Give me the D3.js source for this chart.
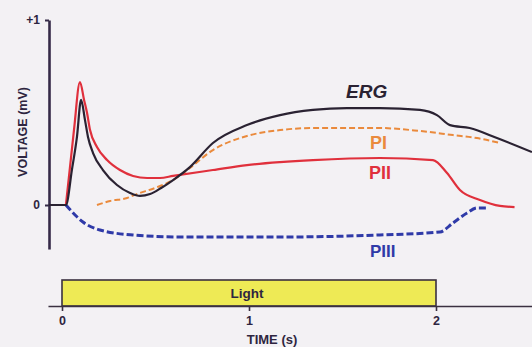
<!DOCTYPE html>
<html>
<head>
<meta charset="utf-8">
<script src="https://cdn.jsdelivr.net/npm/d3@7"></script>
<style>
  html, body { margin: 0; padding: 0; background: #f3f1f4; }
  svg { display: block; }
  text { font-family: "Liberation Sans", Arial, sans-serif; }
</style>
</head>
<body>
<svg id="chart" width="532" height="347"></svg>
<script>
// Time (s) and voltage (mV) samples for the ERG and its components
const ergT  = [-0.07, 0.021, 0.053, 0.080, 0.102, 0.123, 0.139, 0.166, 0.219, 0.294, 0.364, 0.417, 0.471, 0.53, 0.594, 0.684, 0.807, 0.989, 1.166, 1.342, 1.524, 1.70, 1.914, 2.005, 2.075, 2.18, 2.326, 2.513];
const ergV  = [0, 0, 0.19, 0.368, 0.568, 0.459, 0.368, 0.281, 0.189, 0.108, 0.065, 0.049, 0.059, 0.092, 0.135, 0.205, 0.335, 0.432, 0.486, 0.514, 0.524, 0.524, 0.514, 0.486, 0.432, 0.416, 0.362, 0.286];

const piT   = [0.187, 0.257, 0.348, 0.40, 0.497, 0.594, 0.684, 0.807, 0.989, 1.166, 1.342, 1.70, 1.914, 2.091, 2.219, 2.342];
const piV   = [0, 0.022, 0.038, 0.059, 0.092, 0.135, 0.2, 0.297, 0.373, 0.405, 0.416, 0.416, 0.4, 0.378, 0.362, 0.335];

const piiT  = [0.021, 0.064, 0.096, 0.118, 0.134, 0.15, 0.187, 0.241, 0.31, 0.38, 0.455, 0.524, 0.594, 0.807, 0.989, 1.166, 1.342, 1.70, 1.984, 2.059, 2.128, 2.235, 2.342, 2.42];
const piiV  = [0, 0.405, 0.665, 0.568, 0.497, 0.405, 0.314, 0.243, 0.189, 0.157, 0.146, 0.146, 0.157, 0.189, 0.216, 0.232, 0.243, 0.254, 0.243, 0.173, 0.081, 0.027, -0.005, -0.011];

const piiiT = [0.021, 0.07, 0.112, 0.203, 0.38, 0.631, 1.166, 1.70, 2.021, 2.091, 2.166, 2.219, 2.273];
const piiiV = [0, -0.054, -0.092, -0.135, -0.162, -0.173, -0.173, -0.162, -0.146, -0.097, -0.043, -0.016, -0.016];

const yTicks = [0, 1];
const yTickLabels = ["0", "+1"];
const xTicks = [0, 1, 2];
const lightOn = 0, lightOff = 2;

const svg = d3.select("#chart");

const x = d3.scaleLinear().domain([0, 2]).range([62, 436]);
const y = d3.scaleLinear().domain([0, 1]).range([205, 20]);

const zip = (ts, vs) => ts.map((t, i) => [t, vs[i]]);
const line = d3.line().x(d => x(d[0])).y(d => y(d[1])).curve(d3.curveMonotoneX);

// Voltage axis
const yAxisScale = y.copy().domain([-0.238, 1]).range([y(-0.238), y(1)]);
const yAxis = svg.append("g")
  .attr("transform", "translate(49,0)")
  .call(d3.axisLeft(yAxisScale).tickValues(yTicks).tickSize(4).tickSizeOuter(0)
    .tickFormat((d, i) => yTickLabels[i]));
yAxis.select(".domain").attr("stroke", "#352a48").attr("stroke-width", 2.6);
yAxis.selectAll(".tick line").attr("stroke", "#352a48").attr("stroke-width", 2);
yAxis.selectAll(".tick text").attr("fill", "#2e2540").attr("font-size", 12).attr("font-weight", "bold").attr("x", -9);

svg.append("text")
  .attr("transform", "translate(27,132) rotate(-90)")
  .attr("text-anchor", "middle")
  .attr("font-size", 12.5).attr("font-weight", "bold").attr("fill", "#2e2540")
  .text("VOLTAGE (mV)");

// Stimulus bar and time axis
svg.append("rect")
  .attr("x", x(lightOn)).attr("y", 280)
  .attr("width", x(lightOff) - x(lightOn)).attr("height", 306 - 280)
  .attr("fill", "#eeea55").attr("stroke", "#3a3040").attr("stroke-width", 1.6);
svg.append("text")
  .attr("x", x((lightOn + lightOff) / 2) - 2).attr("y", 298)
  .attr("text-anchor", "middle").attr("font-size", 13.5).attr("font-weight", "bold")
  .attr("fill", "#2e2540").text("Light");

const xAxisScale = x.copy().domain([-0.075, 2.513]).range([x(-0.075), x(2.513)]);
const xAxis = svg.append("g")
  .attr("transform", "translate(0,306)")
  .call(d3.axisBottom(xAxisScale).tickValues(xTicks).tickSize(5).tickSizeOuter(0).tickFormat(d3.format("d")));
xAxis.select(".domain").attr("stroke", "#3a3040").attr("stroke-width", 1.6);
xAxis.selectAll(".tick line").attr("stroke", "#3a3040").attr("stroke-width", 1.6);
xAxis.selectAll(".tick text").attr("fill", "#2e2540").attr("font-size", 12.5).attr("font-weight", "bold").attr("dy", "0.85em");

svg.append("text")
  .attr("x", 272).attr("y", 344)
  .attr("text-anchor", "middle").attr("font-size", 13).attr("font-weight", "bold")
  .attr("fill", "#2e2540").text("TIME (s)");

// Traces
const traces = [
  { data: zip(piiiT, piiiV), color: "#2f3aa8", width: 3, dash: "7,3" },
  { data: zip(piT, piV), color: "#ea8a3c", width: 2, dash: "6,3" },
  { data: zip(piiT, piiV), color: "#e0303c", width: 2.2, dash: null },
  { data: zip(ergT, ergV), color: "#2a2232", width: 2.2, dash: null }
];
svg.append("g").selectAll("path").data(traces).join("path")
  .attr("d", d => line(d.data))
  .attr("fill", "none")
  .attr("stroke", d => d.color)
  .attr("stroke-width", d => d.width)
  .attr("stroke-dasharray", d => d.dash)
  .attr("stroke-linejoin", "round");

// Trace names
const names = [
  { text: "ERG", x: 346, y: 98, color: "#2a2232", size: 19, style: "italic" },
  { text: "PI", x: 370, y: 149, color: "#ea8a3c", size: 18, style: "normal" },
  { text: "PII", x: 369, y: 179, color: "#e0303c", size: 18, style: "normal" },
  { text: "PIII", x: 370, y: 257, color: "#2f3aa8", size: 17, style: "normal" }
];
svg.append("g").selectAll("text").data(names).join("text")
  .attr("x", d => d.x).attr("y", d => d.y)
  .attr("fill", d => d.color).attr("font-size", d => d.size)
  .attr("font-weight", "bold").attr("font-style", d => d.style)
  .text(d => d.text);
</script>
</body>
</html>
